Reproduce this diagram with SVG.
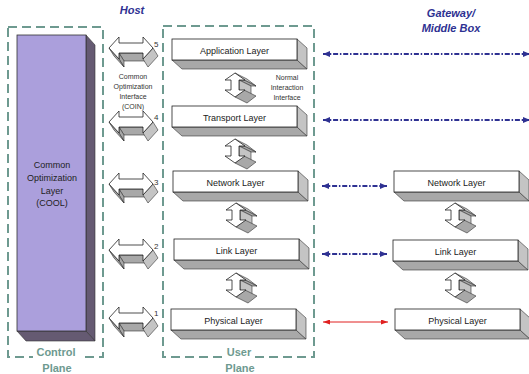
<svg xmlns="http://www.w3.org/2000/svg" xmlns:xlink="http://www.w3.org/1999/xlink" width="529" height="374" viewBox="0 0 529 374">
<style>
text{font-family:"Liberation Sans",Arial,sans-serif;fill:#222}
.lay{font-size:9px;text-anchor:middle}
.small{font-size:7px;text-anchor:middle;fill:#333}
.num{font-size:8px;fill:#333}
.title{font-size:11px;font-weight:bold;font-style:italic;fill:#2e3192;text-anchor:middle}
.plane{font-size:11px;font-weight:bold;fill:#6e9a90;text-anchor:middle}
.dash{fill:none;stroke:#6e9a90;stroke-width:2;stroke-dasharray:9 5}
.front{fill:#fff;stroke:#222;stroke-width:0.8}
.gray{fill:#a8a8a8;stroke:#333;stroke-width:0.6;stroke-linejoin:round}
.side{fill:#c4c4c4;stroke:#333;stroke-width:0.6;stroke-linejoin:round}
.blue{stroke:#2e3192;stroke-width:2;stroke-dasharray:5 1.8 1.5 1.8;fill:none}
.red{stroke:#e02020;stroke-width:1;fill:none}
</style>
<defs>
<marker id="ab" viewBox="0 0 7 6" refX="7" refY="3" markerWidth="7" markerHeight="6" markerUnits="userSpaceOnUse" orient="auto-start-reverse"><path d="M0,0 L7,3 L0,6 z" fill="#2e3192"/></marker>
<marker id="ar" viewBox="0 0 7 5" refX="7" refY="2.5" markerWidth="7" markerHeight="5" markerUnits="userSpaceOnUse" orient="auto-start-reverse"><path d="M0,0 L7,2.5 L0,5 z" fill="#e02020"/></marker>
<g id="layer">
<polygon class="gray" points="0,21 125,21 135,30 10,30"/>
<polygon class="side" points="125,0 135,9 135,30 125,21"/>
<rect class="front" x="0" y="0" width="125" height="21"/>
</g>
<g id="harrow">
<polygon class="gray" points="34,16 10,16 15,24 39,24"/>
<polygon class="gray" points="10,16 10,22 15,30 15,24"/>
<polygon class="gray" points="10,22 0,11 5,19 15,30"/>
<polygon class="side" points="44,11 34,22 39,30 49,19"/>
<path class="front" d="M0,11 L10,0 L10,6 L34,6 L34,0 L44,11 L34,22 L34,16 L10,16 L10,22 Z"/>
</g>
<g id="varrow">
<polygon class="side" points="9,0 18,7 30,13 21,6"/>
<polygon class="gray" points="18,7 13,7 25,13 30,13"/>
<polygon class="side" points="13,7 13,17 25,23 25,13"/>
<polygon class="gray" points="18,17 9,24 21,30 30,23"/>
<path class="front" d="M9,0 L19,7 L13,7 L13,17 L19,17 L9,24 L-1,17 L5,17 L5,7 L-1,7 Z"/>
</g>
</defs>
<rect width="529" height="374" fill="#fff"/>

<g id="control-plane">
<rect class="dash" x="8" y="27" width="95" height="330"/>
<rect x="33" y="349" width="47" height="12" fill="#fff"/>
<text class="plane" x="56" y="356">Control</text>
<text class="plane" x="57" y="372">Plane</text>
</g>
<g id="user-plane">
<rect class="dash" x="163" y="26" width="151" height="331"/>
<rect x="225" y="349" width="29" height="12" fill="#fff"/>
<text class="plane" x="239" y="356">User</text>
<text class="plane" x="240" y="372">Plane</text>
</g>
<text class="title" x="132" y="14">Host</text>
<text class="title" x="451" y="17">Gateway/</text>
<text class="title" x="451" y="32">Middle Box</text>

<g id="cool">
<polygon points="86,35 95,45 95,341 86,331" fill="#655a72" stroke="#333" stroke-width="0.6"/>
<polygon points="17,331 86,331 95,341 26,341" fill="#655a72" stroke="#333" stroke-width="0.6"/>
<rect x="17" y="35" width="69" height="296" fill="#ab9fdc" stroke="#333" stroke-width="0.8"/>
<text class="lay" x="52" y="168">Common</text>
<text class="lay" x="52" y="181">Optimization</text>
<text class="lay" x="52" y="194">Layer</text>
<text class="lay" x="52" y="206">(COOL)</text>
</g>

<g id="coin">
<use xlink:href="#harrow" x="109" y="37"/>
<use xlink:href="#harrow" x="109" y="111"/>
<use xlink:href="#harrow" x="109" y="173"/>
<use xlink:href="#harrow" x="109" y="239"/>
<use xlink:href="#harrow" x="109" y="307"/>
<text class="num" x="154" y="47">5</text>
<text class="num" x="154" y="120">4</text>
<text class="num" x="154" y="185">3</text>
<text class="num" x="154" y="249">2</text>
<text class="num" x="154" y="316">1</text>
<text class="small" x="133" y="79">Common</text>
<text class="small" x="133" y="89">Optimization</text>
<text class="small" x="133" y="99">Interface</text>
<text class="small" x="133" y="109">(COIN)</text>
</g>

<g id="host-application">
<use xlink:href="#layer" x="172" y="39"/>
<text class="lay" x="234.5" y="54">Application Layer</text>
</g>
<g id="host-transport">
<use xlink:href="#layer" x="172" y="106"/>
<text class="lay" x="234.5" y="121">Transport Layer</text>
</g>
<g id="host-network">
<use xlink:href="#layer" x="173" y="171"/>
<text class="lay" x="235.5" y="186">Network Layer</text>
</g>
<g id="host-link">
<use xlink:href="#layer" x="174" y="239"/>
<text class="lay" x="236.5" y="254">Link Layer</text>
</g>
<g id="host-physical">
<use xlink:href="#layer" x="171" y="309"/>
<text class="lay" x="233.5" y="324">Physical Layer</text>
</g>
<g id="gw-network">
<use xlink:href="#layer" x="394" y="171"/>
<text class="lay" x="456.5" y="186">Network Layer</text>
</g>
<g id="gw-link">
<use xlink:href="#layer" x="393" y="240"/>
<text class="lay" x="455.5" y="255">Link Layer</text>
</g>
<g id="gw-physical">
<use xlink:href="#layer" x="395" y="309"/>
<text class="lay" x="457.5" y="324">Physical Layer</text>
</g>

<g id="interaction-arrows">
<use xlink:href="#varrow" x="226" y="73"/>
<use xlink:href="#varrow" x="226" y="139"/>
<use xlink:href="#varrow" x="227" y="203"/>
<use xlink:href="#varrow" x="227" y="273"/>
<use xlink:href="#varrow" x="446" y="203"/>
<use xlink:href="#varrow" x="446" y="273"/>
<text class="small" x="287" y="80">Normal</text>
<text class="small" x="287" y="90">Interaction</text>
<text class="small" x="287" y="100">Interface</text>
</g>

<g id="connectors">
<line class="blue" x1="323" y1="54" x2="530" y2="54" marker-start="url(#ab)" marker-end="url(#ab)"/>
<line class="blue" x1="323" y1="120" x2="530" y2="120" marker-start="url(#ab)" marker-end="url(#ab)"/>
<line class="blue" x1="322" y1="186" x2="387" y2="186" marker-start="url(#ab)" marker-end="url(#ab)"/>
<line class="blue" x1="322" y1="254" x2="387" y2="254" marker-start="url(#ab)" marker-end="url(#ab)"/>
<line class="red" x1="323" y1="322" x2="388" y2="322" marker-start="url(#ar)" marker-end="url(#ar)"/>
</g>
</svg>
